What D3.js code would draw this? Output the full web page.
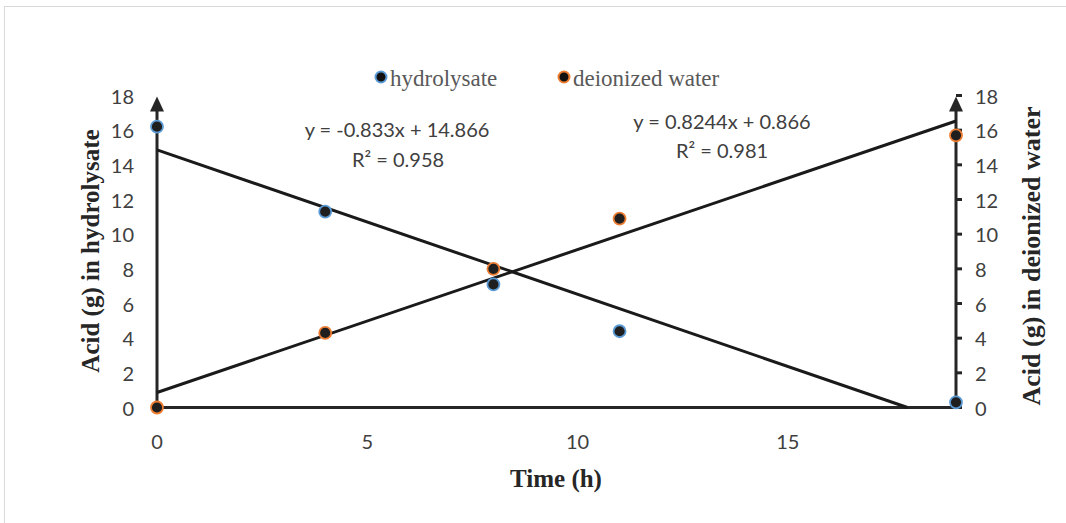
<!DOCTYPE html>
<html>
<head>
<meta charset="utf-8">
<script src="https://cdn.jsdelivr.net/npm/d3@7"></script>
<style>
  body { margin: 0; background: #fff; }
  svg { display: block; }
</style>
</head>
<body>
<div id="chart"></div>
<script>
// data
const hours = [0, 4, 8, 11, 19];
const hydrolysate = [16.2, 11.3, 7.1, 4.4, 0.3];
const deionized = [0, 4.3, 8.0, 10.9, 15.7];
const yTicks = [0, 2, 4, 6, 8, 10, 12, 14, 16, 18];
const xTicks = [0, 5, 10, 15];
// trendline fits shown on the chart
const fitHydro = { slope: -0.833, intercept: 14.866, r2: '0.958' };
const fitWater = { slope: 0.8244, intercept: 0.866, r2: '0.981' };

const width = 1066;
const height = 523;
const margin = { left: 157, right: 110, top: 95, bottom: 115 };

const svg = d3.select('#chart')
    .append('svg')
    .attr('width', width)
    .attr('height', height);

// chart frame
svg.append('rect')
    .attr('x', 4.5).attr('y', 6.5)
    .attr('width', width).attr('height', height)
    .attr('fill', 'none')
    .attr('stroke', '#d9d9d9');

const x = d3.scaleLinear()
    .domain([0, 19])
    .range([margin.left, width - margin.right]);

const y = d3.scaleLinear()
    .domain([0, 18])
    .range([height - margin.bottom - 0.5, margin.top + 0.5]);

const axisColor = '#262626';
const labelFont = 'Lato, "Open Sans", sans-serif';
const serif = '"Liberation Serif", "DejaVu Serif", serif';

// x axis line
svg.append('line')
    .attr('x1', x(0)).attr('x2', x(19))
    .attr('y1', y(0)).attr('y2', y(0))
    .attr('stroke', axisColor).attr('stroke-width', 3);

// both y axes with arrow heads
[0, 19].forEach(v => {
    const ax = x(v);
    const tip = y(18) + 1;
    svg.append('line')
        .attr('x1', ax).attr('x2', ax)
        .attr('y1', y(0)).attr('y2', tip + 14)
        .attr('stroke', axisColor).attr('stroke-width', 3);
    svg.append('path')
        .attr('d', `M${ax},${tip} L${ax + 7},${tip + 15} L${ax - 7},${tip + 15} Z`)
        .attr('fill', axisColor);
});

// right axis has small ticks
svg.append('g')
    .selectAll('line')
    .data(yTicks)
    .join('line')
    .attr('x1', x(19)).attr('x2', x(19) + 6)
    .attr('y1', d => y(d)).attr('y2', d => y(d))
    .attr('stroke', axisColor).attr('stroke-width', 3);

// tick labels
const tickStyle = sel => sel
    .attr('font-family', labelFont)
    .attr('font-size', 20)
    .attr('fill', '#404040')
    .attr('dominant-baseline', 'central');

svg.append('g')
    .selectAll('text')
    .data(yTicks)
    .join('text')
    .attr('x', x(0) - 23)
    .attr('y', d => y(d))
    .attr('text-anchor', 'end')
    .text(d => d)
    .call(tickStyle);

svg.append('g')
    .selectAll('text')
    .data(yTicks)
    .join('text')
    .attr('x', x(19) + 19)
    .attr('y', d => y(d))
    .attr('text-anchor', 'start')
    .text(d => d)
    .call(tickStyle);

svg.append('g')
    .selectAll('text')
    .data(xTicks)
    .join('text')
    .attr('x', d => x(d))
    .attr('y', y(0) + 33)
    .attr('text-anchor', 'middle')
    .text(d => d)
    .call(tickStyle);

// axis titles
const titleStyle = sel => sel
    .attr('text-anchor', 'middle')
    .attr('dominant-baseline', 'central')
    .attr('font-family', serif)
    .attr('font-weight', 'bold')
    .attr('font-size', 25)
    .attr('fill', '#262626');

svg.append('text')
    .attr('transform', `translate(90,251) rotate(-90)`)
    .text('Acid (g) in hydrolysate')
    .call(titleStyle);

svg.append('text')
    .attr('transform', `translate(1031,256) rotate(-90)`)
    .text('Acid (g) in deionized water')
    .call(titleStyle)
    .attr('font-size', 26);

svg.append('text')
    .attr('x', 556).attr('y', 478)
    .text('Time (h)')
    .call(titleStyle);

// trendlines
const drawFit = (fit, x0, x1) => {
    svg.append('line')
        .attr('x1', x(x0)).attr('y1', y(fit.slope * x0 + fit.intercept))
        .attr('x2', x(x1)).attr('y2', y(fit.slope * x1 + fit.intercept))
        .attr('stroke', '#1a1a1a').attr('stroke-width', 3);
};
drawFit(fitHydro, 0, -fitHydro.intercept / fitHydro.slope);
drawFit(fitWater, 0, 19);

// points
const drawPoints = (values, color) => {
    svg.append('g')
        .selectAll('circle')
        .data(values)
        .join('circle')
        .attr('cx', (d, i) => x(hours[i]))
        .attr('cy', d => y(d))
        .attr('r', 6)
        .attr('fill', '#1f1f1f')
        .attr('stroke', color)
        .attr('stroke-width', 1.8);
};
drawPoints(hydrolysate, '#5b9bd5');
drawPoints(deionized, '#ed7d31');

// equations
const eqStyle = sel => sel
    .attr('font-family', labelFont)
    .attr('font-size', 20)
    .attr('fill', '#404040')
    .attr('text-anchor', 'middle');

svg.append('text').attr('x', 397).attr('y', 137)
    .text(`y = ${fitHydro.slope}x + ${fitHydro.intercept}`).call(eqStyle);
svg.append('text').attr('x', 398).attr('y', 167)
    .text(`R² = ${fitHydro.r2}`).call(eqStyle);
svg.append('text').attr('x', 722).attr('y', 129)
    .text(`y = ${fitWater.slope}x + ${fitWater.intercept}`).call(eqStyle);
svg.append('text').attr('x', 722).attr('y', 158)
    .text(`R² = ${fitWater.r2}`).call(eqStyle);

// legend
const legend = svg.append('g');
[['hydrolysate', '#5b9bd5', 381], ['deionized water', '#ed7d31', 564]].forEach(([name, color, lx]) => {
    legend.append('circle')
        .attr('cx', lx).attr('cy', 77).attr('r', 5.5)
        .attr('fill', '#111').attr('stroke', color).attr('stroke-width', 2);
    legend.append('text')
        .attr('x', lx + 9).attr('y', 78)
        .attr('dominant-baseline', 'central')
        .attr('font-family', serif)
        .attr('font-size', 23)
        .attr('fill', '#595959')
        .text(name);
});
</script>
</body>
</html>
